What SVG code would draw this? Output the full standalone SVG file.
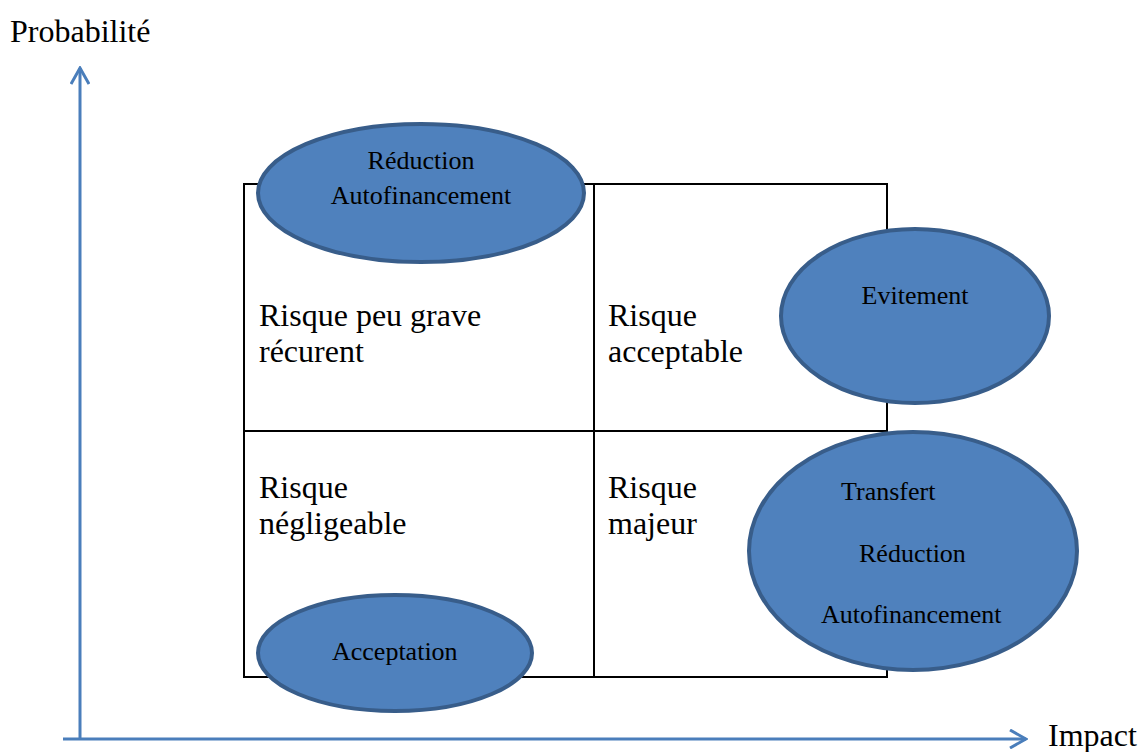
<svg xmlns="http://www.w3.org/2000/svg" width="1139" height="752" viewBox="0 0 1139 752">
  <style>
    .axis { stroke: #4a7ebb; stroke-width: 3; fill: none; }
    .grid { stroke: #000; stroke-width: 2; fill: none; }
    .node ellipse { fill: #4f81bd; stroke: #385d8a; stroke-width: 4; }
    .lbl { font-family: "Liberation Serif", "Times New Roman", serif; fill: #000; }
    .big { font-size: 32px; }
    .small { font-size: 26px; }
  </style>
  <defs>
    <marker id="chev" viewBox="0 0 20 20" refX="18" refY="10" markerWidth="20" markerHeight="20" markerUnits="userSpaceOnUse" orient="auto">
      <path d="M2,1 L18,10 L2,19" fill="none" stroke="#4a7ebb" stroke-width="3"/>
    </marker>
  </defs>
  <rect width="1139" height="752" fill="#fff"/>

  <!-- axes -->
  <g id="connectors">
    <line class="axis" x1="80" y1="740" x2="80" y2="68" marker-end="url(#chev)"/>
    <line class="axis" x1="63" y1="739" x2="1026" y2="739" marker-end="url(#chev)"/>
  </g>
  <text class="lbl big" x="10" y="42">Probabilité</text>
  <text class="lbl big" x="1048" y="746">Impact</text>

  <!-- risk matrix -->
  <g id="matrix">
    <rect class="grid" x="244" y="184" width="643" height="493"/>
    <line class="grid" x1="594" y1="184" x2="594" y2="677"/>
    <line class="grid" x1="244" y1="431" x2="887" y2="431"/>
    <text class="lbl big" x="259" y="326">Risque peu grave</text>
    <text class="lbl big" x="259" y="362">récurent</text>
    <text class="lbl big" x="608" y="326">Risque</text>
    <text class="lbl big" x="608" y="362">acceptable</text>
    <text class="lbl big" x="259" y="498">Risque</text>
    <text class="lbl big" x="259" y="534">négligeable</text>
    <text class="lbl big" x="608" y="498">Risque</text>
    <text class="lbl big" x="608" y="534">majeur</text>
  </g>

  <!-- treatment ellipses -->
  <g id="node-reduction" class="node">
    <ellipse cx="421" cy="193" rx="163" ry="69"/>
    <text class="lbl small" x="421" y="169" text-anchor="middle">Réduction</text>
    <text class="lbl small" x="421" y="204" text-anchor="middle">Autofinancement</text>
  </g>
  <g id="node-evitement" class="node">
    <ellipse cx="915" cy="316" rx="134" ry="87"/>
    <text class="lbl small" x="915" y="304" text-anchor="middle">Evitement</text>
  </g>
  <g id="node-transfert" class="node">
    <ellipse cx="913" cy="551" rx="164" ry="119"/>
    <text class="lbl small" x="841" y="500">Transfert</text>
    <text class="lbl small" x="859" y="562">Réduction</text>
    <text class="lbl small" x="821" y="623">Autofinancement</text>
  </g>
  <g id="node-acceptation" class="node">
    <ellipse cx="395" cy="653" rx="137" ry="58"/>
    <text class="lbl small" x="332" y="660">Acceptation</text>
  </g>
</svg>
